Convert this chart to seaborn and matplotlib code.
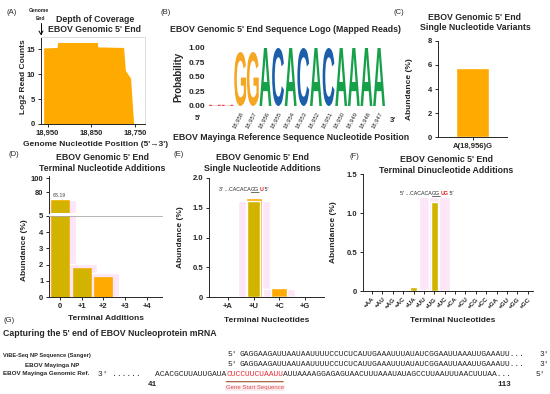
import matplotlib
matplotlib.use("Agg")
import matplotlib.pyplot as plt
import seaborn as sns
from matplotlib.font_manager import FontProperties
from matplotlib.textpath import TextPath
from matplotlib.patches import PathPatch
from matplotlib.transforms import Affine2D
from matplotlib.lines import Line2D
from matplotlib.ticker import StrMethodFormatter

# (A) depth of coverage at the genomic 5' end
cov_pos = [18959, 18928, 18927, 18836, 18835, 18776, 18772, 18760, 18753]
cov_log2 = [15.3, 15.4, 16.4, 16.4, 15.5, 15.4, 10.8, 9.2, 0.0]

# (B) sequence logo of mapped reads
logo_pos = [18960, 18959, 18958, 18957, 18956, 18955, 18954,
            18953, 18952, 18951, 18950, 18949, 18948, 18947]
logo_base = ["U", "U", "G", "G", "A", "C", "A", "C", "A", "C", "A", "A", "A", "A"]
logo_prob = [0.02, 0.02, 0.93, 0.93, 1.0, 1.0, 1.0, 1.0, 1.0, 1.0, 1.0, 1.0, 1.0, 1.0]

# (C) single nucleotide variants
snv_label = ["A(18,956)G"]
snv_abund = [5.77]

# (D) terminal nucleotide additions
add_cats = ["0", "+1", "+2", "+3", "+4"]
add_pink = [68.6, 2.05, 1.5, 0, 0]
add_main = [68.19, 1.8, 1.22, 0, 0]

# (E) single nucleotide additions
nuc_cats = ["+A", "+U", "+C", "+G"]
nuc_pink = [0, 1.62, 0.14, 0]
nuc_orange = [0, 1.66, 0.15, 0]
nuc_mustard = [0, 1.62, 0.0, 0]

# (F) dinucleotide additions
di_cats = ["+AA", "+AU", "+AG", "+AC", "+UA", "+UU", "+UG", "+UC",
           "+CA", "+CU", "+CG", "+CC", "+GA", "+GU", "+GG", "+GC"]
di_pink = [0, 0, 0, 0, 0, 1.2, 1.2, 1.2, 0, 0, 0, 0, 0, 0, 0, 0]
di_vals = [0, 0, 0, 0, 0.05, 0.01, 1.14, 0, 0, 0, 0, 0, 0, 0, 0, 0]

# (G) sequences
sanger_seq = "GAGGAAGAUUAAUAAUUUUCCUCUCAUUGAAAUUUAUAUCGGAAUUAAAUUGAAAUU"
np_seq = "GAGGAAGAUUAAUAAUUUUCCUCUCAUUGAAAUUUAUAUCGGAAUUAAAUUGAAAUU"
genomic_seq = "ACACGCUUAUUGAUACUCCUUCUAAUUAUUAAAAGGAGAGUAACUUUAAAUAUAGCCUUAAUUUAACUUUAA"
gene_start = (15, 27)

ORANGE = "#FFAA00"
MUSTARD = "#D2B400"
PINK = "#FCE6F8"
logo_colors = {"A": "#17A04A", "C": "#1B5FAA", "G": "#F5A623", "U": "#E03030"}

sns.set_style("ticks")
plt.rcParams["font.family"] = ["Liberation Sans", "DejaVu Sans"]
plt.rcParams["font.weight"] = "bold"
plt.rcParams["axes.labelweight"] = "bold"
plt.rcParams["axes.linewidth"] = 0.7
plt.rcParams["xtick.major.width"] = 0.7
plt.rcParams["ytick.major.width"] = 0.7
plt.rcParams["xtick.major.size"] = 2.5
plt.rcParams["ytick.major.size"] = 2.5
plt.rcParams["xtick.major.pad"] = 1.5
plt.rcParams["ytick.major.pad"] = 1.5
plt.rcParams["xtick.labelsize"] = 5.5
plt.rcParams["ytick.labelsize"] = 5.5

W, H = 550, 394
fig = plt.figure(figsize=(5.5, 3.94), dpi=100)


def box(l, t, r, b):
    return [l / W, 1 - b / H, (r - l) / W, (b - t) / H]


def ftext(x, y, s, **kw):
    kw.setdefault("ha", "center")
    kw.setdefault("va", "center")
    return fig.text(x / W, 1 - y / H, s, **kw)


def title2(x, y, l1, l2):
    ftext(x, y, l1, fontsize=6.3, weight="bold")
    ftext(x, y + 10.5, l2, fontsize=6.3, weight="bold")


# ---------- (A)
axA = fig.add_axes(box(41, 37, 145, 124))
axA.fill_between(cov_pos, cov_log2, 0, color=ORANGE, lw=0)
axA.set_xlim(18965, 18727)
axA.set_ylim(0, 17.5)
axA.set_xticks([18950, 18850, 18750])
axA.xaxis.set_major_formatter(StrMethodFormatter("{x:,.0f}"))
axA.set_yticks([0, 5, 10, 15])
axA.set_ylabel("Log2 Read Counts", fontsize=6)
axA.yaxis.set_label_coords(-0.135, 0.55)
axA.set_xlabel("Genome Nucleotide Position (5'\u21923')", fontsize=6)
axA.xaxis.set_label_coords(0.52, -0.2)
for s in ["top", "right"]:
    axA.spines[s].set_color("#DDDDDD")
ftext(12, 12, "(A)", fontsize=5.5, weight="normal")
title2(95, 19, "Depth of Coverage", "EBOV Genomic 5' End")
ftext(39, 11, "Genome", fontsize=3.6)
ftext(40, 18, "End", fontsize=3.6)
fig.add_artist(Line2D([41 / W, 41 / W], [1 - 23 / H, 1 - 34 / H], color="black", lw=0.7))
fig.add_artist(Line2D([39 / W, 41 / W, 43 / W], [1 - 31 / H, 1 - 34.5 / H, 1 - 31 / H],
                      color="black", lw=0.7))

# ---------- (B)
axB = fig.add_axes(box(208, 44.5, 386, 108.3))
fp_logo = FontProperties(family="Liberation Sans", weight="bold")
for i, (b, p) in enumerate(zip(logo_base, logo_prob)):
    tp = TextPath((0, 0), b, size=1, prop=fp_logo)
    bb = tp.get_extents()
    tr = (Affine2D().translate(-bb.x0, -bb.y0)
          .scale(0.94 / bb.width, p / bb.height).translate(i - 0.47, 0))
    axB.add_patch(PathPatch(tr.transform_path(tp), fc=logo_colors[b], ec="none"))
axB.set_xlim(-0.55, len(logo_pos) - 0.45)
axB.set_ylim(-0.04, 1.06)
axB.set_yticks([0, 0.25, 0.5, 0.75, 1.0])
axB.set_yticklabels(["0.00", "0.25", "0.50", "0.75", "1.00"], fontsize=6)
axB.set_xticks(range(2, len(logo_pos)))
axB.set_xticklabels([f"{p:,}" for p in logo_pos[2:]], rotation=62, ha="right",
                    va="top", rotation_mode="anchor", fontsize=4.2, weight="normal")
axB.tick_params(length=0, pad=2)
sns.despine(ax=axB, left=True, bottom=True)
axB.set_ylabel("Probability", fontsize=7)
axB.yaxis.set_label_coords(-0.14, 0.49)
ftext(166, 12, "(B)", fontsize=5.5, weight="normal")
ftext(286, 30, "EBOV Genomic 5' End Sequence Logo (Mapped Reads)", fontsize=6.3, weight="bold")
ftext(291, 137, "EBOV Mayinga Reference Sequence Nucleotide Position", fontsize=6.3, weight="bold")
ftext(198, 118, "5'", fontsize=5.5, weight="bold")
ftext(393, 120, "3'", fontsize=5.5, weight="bold")

# ---------- (C)
axC = fig.add_axes(box(438, 41, 507, 137))
sns.barplot(x=snv_label, y=snv_abund, color=ORANGE, width=0.5, saturation=1, ax=axC)
axC.set_xlim(-0.51, 0.51)
axC.set_ylim(0, 8)
axC.set_yticks([0, 2, 4, 6, 8])
axC.set_ylabel("Abundance (%)", fontsize=6)
axC.yaxis.set_label_coords(-0.36, 0.5)
sns.despine(ax=axC)
ftext(399, 12, "(C)", fontsize=5.5, weight="normal")
title2(475, 17, "EBOV Genomic 5' End", "Single Nucleotide Variants")

# ---------- (D) broken axis
axDt = fig.add_axes(box(49, 176, 162, 213))
axDb = fig.add_axes(box(49, 216, 162, 297))
for ax in (axDt, axDb):
    sns.barplot(x=add_cats, y=add_pink, color=PINK, width=1.45, saturation=1, ax=ax)
    sns.barplot(x=add_cats, y=add_main, hue=add_cats, legend=False, width=0.82,
                palette=[MUSTARD, MUSTARD, ORANGE, MUSTARD, MUSTARD], saturation=1,
                edgecolor=ORANGE, linewidth=0.5, ax=ax)
    ax.set_xlim(-0.5, 4.7)
axDt.set_ylim(50, 103)
axDt.set_yticks([80, 100])
axDt.set_xticks([])
sns.despine(ax=axDt, bottom=True)
axDt.annotate(f"{add_main[0]:.2f}", (0, add_main[0]), xytext=(0, 1.5),
              textcoords="offset points", ha="center", va="bottom", fontsize=3.8, color="grey")
axDb.set_ylim(0, 5)
axDb.set_yticks(range(6))
sns.despine(ax=axDb, top=False)
axDb.spines["top"].set_color("#AAAAAA")
axDb.spines["top"].set_linewidth(0.6)
axDb.set_ylabel("Abundance (%)", fontsize=6)
axDb.yaxis.set_label_coords(-0.19, 0.58)
axDb.set_xlabel("Terminal Additions", fontsize=6)
axDb.xaxis.set_label_coords(0.5, -0.22)
ftext(14, 155, "(D)", fontsize=5.5, weight="normal")
title2(102, 158, "EBOV Genomic 5' End", "Terminal Nucleotide Additions")

# ---------- (E)
axE = fig.add_axes(box(209, 178, 324, 297))
sns.barplot(x=nuc_cats, y=nuc_pink, color=PINK, width=1.25, saturation=1, ax=axE)
sns.barplot(x=nuc_cats, y=nuc_orange, color=ORANGE, width=0.62, saturation=1, ax=axE)
sns.barplot(x=nuc_cats, y=nuc_mustard, color=MUSTARD, width=0.52, saturation=1, ax=axE)
axE.set_xlim(-0.75, 3.75)
axE.set_ylim(0, 2)
axE.set_yticks([0, 0.5, 1.0, 1.5, 2.0])
axE.set_yticklabels(["0", "0.5", "1.0", "1.5", "2.0"])
sns.despine(ax=axE)
axE.set_ylabel("Abundance (%)", fontsize=6)
axE.yaxis.set_label_coords(-0.22, 0.5)
axE.set_xlabel("Terminal Nucleotides", fontsize=6)
axE.xaxis.set_label_coords(0.5, -0.17)
ftext(179, 155, "(E)", fontsize=5.5, weight="normal")
title2(262, 158, "EBOV Genomic 5' End", "Single Nucleotide Additions")


def note(ax, x, y, pre, ul, red):
    t1 = ax.text(x, y, pre, transform=ax.transAxes, ha="left", va="center",
                 fontsize=3.8, weight="normal")
    t2 = ax.annotate(ul, xy=(1, 0), xycoords=t1, va="bottom", fontsize=3.8, weight="normal")
    t3 = ax.annotate(red, xy=(1, 0), xycoords=t2, va="bottom", fontsize=3.8, color="#E02020")
    ax.annotate(" 5'", xy=(1, 0), xycoords=t3, va="bottom", fontsize=3.8, weight="normal")
    ax.annotate("", xy=(0, 0.02), xycoords=t2, xytext=(1, 0.02), textcoords=t2,
                arrowprops=dict(arrowstyle="-", lw=0.4, color="black", shrinkA=0, shrinkB=0))


note(axE, 0.09, 0.9, "3' ...CACACA", "GG", "U")

# ---------- (F)
axF = fig.add_axes(box(363, 174, 533, 291))
sns.barplot(x=di_cats, y=di_pink, color=PINK, width=1.05, saturation=1, ax=axF)
sns.barplot(x=di_cats, y=di_vals, color=MUSTARD, width=0.7, saturation=1, ax=axF)
axF.set_xlim(-0.87, 15.5)
axF.set_ylim(0, 1.5)
axF.set_yticks([0, 0.5, 1.0, 1.5])
axF.set_yticklabels(["0", "0.5", "1.0", "1.5"])
axF.tick_params(axis="x", labelsize=4.5)
plt.setp(axF.get_xticklabels(), rotation=45, ha="right", va="top", rotation_mode="anchor")
sns.despine(ax=axF)
axF.set_ylabel("Abundance (%)", fontsize=6)
axF.yaxis.set_label_coords(-0.155, 0.5)
axF.set_xlabel("Terminal Nucleotides", fontsize=6)
axF.xaxis.set_label_coords(0.53, -0.22)
ftext(354, 157, "(F)", fontsize=5.5, weight="normal")
title2(446, 160, "EBOV Genomic 5' End", "Terminal Dinucleotide Additions")
note(axF, 0.22, 0.83, "5' ...CACACA", "GG", "UG")

# ---------- (G) text block on a pixel-coordinate overlay
axG = fig.add_axes([0, 0, 1, 1], zorder=-1)
axG.set_xlim(0, W)
axG.set_ylim(H, 0)
axG.axis("off")

axG.text(3, 321, "(G)", ha="left", va="center", fontsize=5.5, weight="normal")
axG.text(3, 334, "Capturing the 5' end of EBOV Nucleoprotein mRNA", ha="left", va="center",
         fontsize=6.3, weight="bold")
axG.text(3, 355, "ViBE-Seq NP Sequence (Sanger)", ha="left", va="center", fontsize=4.1)
axG.text(79, 365, "EBOV Mayinga NP", ha="right", va="center", fontsize=4.5)
axG.text(3, 374, "EBOV Mayinga Genomic Ref.", ha="left", va="center", fontsize=4.5)

mono = dict(family="Liberation Mono", fontsize=5.8, weight="normal", va="center")
axG.text(228, 355, "5'", ha="left", **mono)
axG.text(239, 355, sanger_seq + "...", ha="left", **mono)
axG.text(540, 355, "3'", ha="left", **mono)
axG.text(228, 365, "5'", ha="left", **mono)
axG.text(239, 365, np_seq + "...", ha="left", **mono)
axG.text(540, 365, "3'", ha="left", **mono)
a, b = gene_start
axG.text(98, 374, "3' ......", ha="left", **mono)
g1 = axG.text(155, 374, genomic_seq[:a], ha="left", **mono)
g2 = axG.annotate(genomic_seq[a:b], xy=(1, 0.5), xycoords=g1, ha="left", color="#E8303A", **mono)
axG.annotate(genomic_seq[b:] + "...", xy=(1, 0.5), xycoords=g2, ha="left", **mono)
axG.text(536, 374, "5'", ha="left", **mono)
axG.text(152, 385, "41", ha="center", va="center", family="Liberation Mono",
         fontsize=5.5, weight="bold")
axG.text(504, 385, "113", ha="center", va="center", family="Liberation Mono",
         fontsize=5.5, weight="bold")
axG.annotate("", xy=(0, -0.6), xycoords=g2, xytext=(1, -0.6), textcoords=g2,
             arrowprops=dict(arrowstyle="-", lw=0.8, color="#A0522D", shrinkA=0, shrinkB=0))
axG.annotate("Gene Start Sequence", xy=(0.5, -1.5), xycoords=g2, ha="center", va="center",
             fontsize=4.3, weight="normal", color="#D9534F",
             bbox=dict(boxstyle="square,pad=0.15", fc="#FDECEF", ec="none"))

fig.savefig("out.png", dpi=100)
